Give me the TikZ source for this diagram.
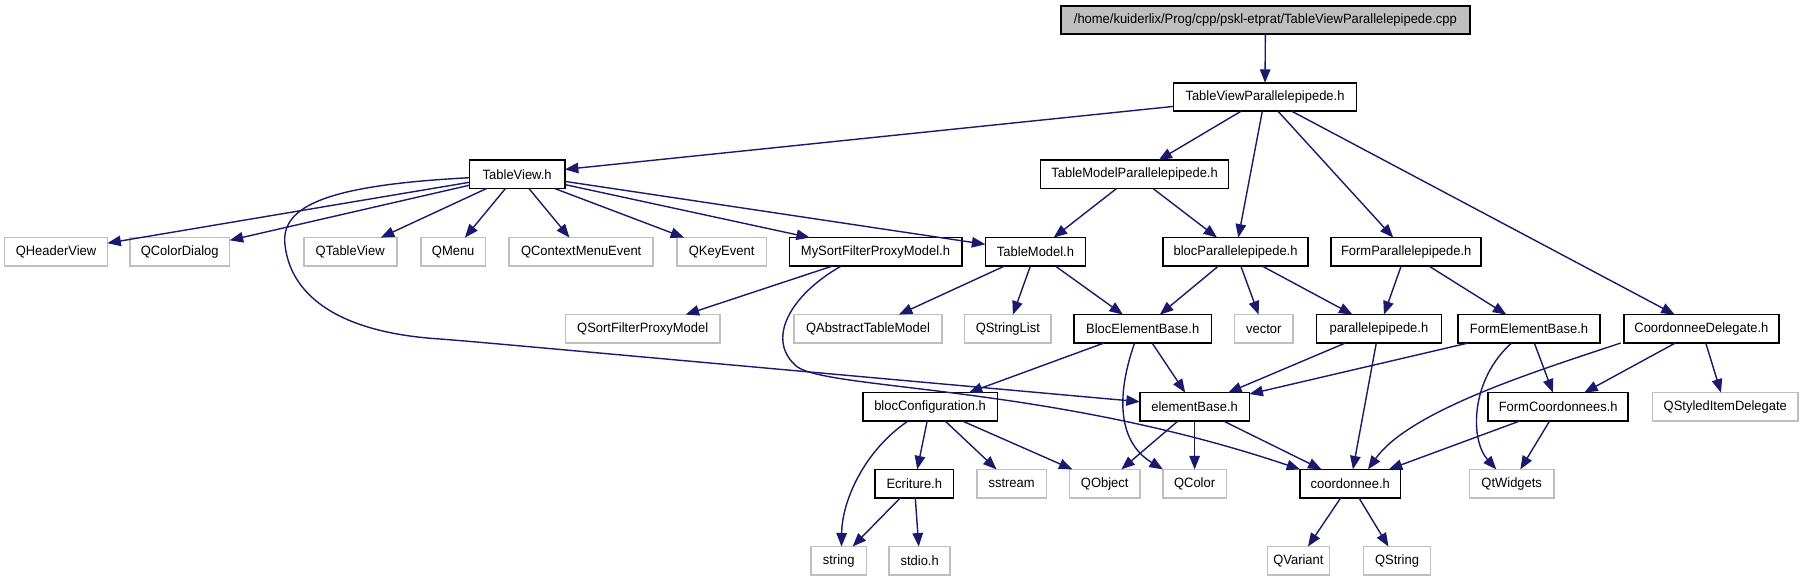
\documentclass[tikz,border=0pt]{standalone}
\usepackage{fontspec}
\setmainfont[FakeStretch=0.96]{Liberation Sans}
\usetikzlibrary{arrows.meta}
\definecolor{edgeblue}{HTML}{191970}
\definecolor{sysgray}{HTML}{BFBFBF}
\begin{document}
\begin{tikzpicture}[x=1pt,y=-1pt,
  box/.style={draw=black, line width=1.6pt, rectangle, inner sep=0pt, outer sep=0pt,
              minimum height=28.4pt, font=\fontsize{13.5}{15}\selectfont, fill=white},
  sys/.style={box, draw=sysgray},
  rootbox/.style={box, fill=sysgray},
  dep/.style={draw=edgeblue, line width=1.4pt, -{Triangle[length=13.5pt,width=10.5pt]}}]
\useasboundingbox (0,0) rectangle (1804,581);
% row 0
\node[rootbox, minimum width=409pt] (root) at (1265.4,19.9) {/home/kuiderlix/Prog/cpp/pskl-etprat/TableViewParallelepipede.cpp};
% row 1
\node[box, minimum width=183.3pt] (tvp) at (1265,97) {TableViewParallelepipede.h};
% row 2
\node[box, minimum width=95.3pt] (tv) at (517.2,174.3) {TableView.h};
\node[box, minimum width=188pt] (tmp) at (1134.6,174.4) {TableModelParallelepipede.h};
% row 3
\node[sys, minimum width=102.7pt] (qhv) at (56,251.8) {QHeaderView};
\node[sys, minimum width=99.9pt] (qcd) at (179.7,251.8) {QColorDialog};
\node[sys, minimum width=93pt] (qtv) at (350.2,251.8) {QTableView};
\node[sys, minimum width=64.8pt] (qmenu) at (453.2,251.8) {QMenu};
\node[sys, minimum width=144.1pt] (qcme) at (581.2,251.8) {QContextMenuEvent};
\node[sys, minimum width=89.6pt] (qke) at (721.6,251.8) {QKeyEvent};
\node[box, minimum width=172.4pt] (mysort) at (875.5,251.8) {MySortFilterProxyModel.h};
\node[box, minimum width=100.3pt] (tm) at (1035.5,251.8) {TableModel.h};
\node[box, minimum width=145.3pt] (bp) at (1235.6,251.8) {blocParallelepipede.h};
\node[box, minimum width=150pt] (fp) at (1406.2,251.8) {FormParallelepipede.h};
% row 4
\node[sys, minimum width=154.5pt] (qsfpm) at (642.7,328.8) {QSortFilterProxyModel};
\node[sys, minimum width=148.1pt] (qatm) at (868,328.8) {QAbstractTableModel};
\node[sys, minimum width=86.4pt] (qsl) at (1007.8,328.8) {QStringList};
\node[box, minimum width=137.2pt] (beb) at (1142.7,328.8) {BlocElementBase.h};
\node[sys, minimum width=58.8pt] (vector) at (1263.8,328.8) {vector};
\node[box, minimum width=125.1pt] (para) at (1378.9,328.8) {parallelepipede.h};
\node[box, minimum width=141.8pt] (feb) at (1529,328.8) {FormElementBase.h};
\node[box, minimum width=154.6pt] (cd) at (1701.4,328.8) {CoordonneeDelegate.h};
% row 5
\node[box, minimum width=134.6pt] (bc) at (930.1,406.8) {blocConfiguration.h};
\node[box, minimum width=109.6pt] (eb) at (1194.6,406.8) {elementBase.h};
\node[box, minimum width=140.1pt] (fc) at (1558.2,406.8) {FormCoordonnees.h};
\node[sys, minimum width=145.8pt] (qsid) at (1725.3,406.8) {QStyledItemDelegate};
% row 6
\node[box, minimum width=78.7pt] (ecr) at (914.3,483.6) {Ecriture.h};
\node[sys, minimum width=69.7pt] (sstream) at (1011.6,483.6) {sstream};
\node[sys, minimum width=70.3pt] (qobj) at (1104.7,483.6) {QObject};
\node[sys, minimum width=63.4pt] (qcolor) at (1194.6,483.6) {QColor};
\node[box, minimum width=100.3pt] (coord) at (1350.3,483.6) {coordonnee.h};
\node[sys, minimum width=84.2pt] (qtw) at (1511.7,483.6) {QtWidgets};
% row 7
\node[sys, minimum width=55.2pt] (string) at (838.7,560.7) {string};
\node[sys, minimum width=61pt] (stdio) at (919.7,560.7) {stdio.h};
\node[sys, minimum width=62.2pt] (qvar) at (1298.4,560.7) {QVariant};
\node[sys, minimum width=66.9pt] (qstr) at (1397,560.7) {QString};

% edges
\draw[dep] (root) -- (tvp);
\draw[dep] (tvp) -- (tv);
\draw[dep] (tvp) -- (tmp);
\draw[dep] (tvp) -- (bp);
\draw[dep] (tvp) -- (fp);
\draw[dep] (tvp) -- (cd);
\draw[dep] (tv) -- (qhv);
\draw[dep] (tv) -- (qcd);
\draw[dep] (tv) -- (qtv);
\draw[dep] (tv) -- (qmenu);
\draw[dep] (tv) -- (qcme);
\draw[dep] (tv) -- (qke);
\draw[dep] (tv) -- (mysort);
\draw[dep] (tv) -- (tm);
\draw[dep] ([yshift=-3.4pt]tv.west) .. controls (330,185) and (280,205) .. (285,245)
  .. controls (290,290) and (330,332) .. (440,339)
  .. controls (480,342) and (520,346) .. ([yshift=5.1pt]eb.west);
\draw[dep] (tmp) -- (tm);
\draw[dep] (tmp) -- (bp);
\draw[dep] (mysort) -- (qsfpm);
\draw[dep] ([xshift=-34.2pt]mysort.south) .. controls (790,295) and (765,340) .. (797,366.7)
  .. controls (830,390) and (1050,385) .. (coord.north west);
\draw[dep] (tm) -- (qatm);
\draw[dep] (tm) -- (qsl);
\draw[dep] (tm) -- (beb);
\draw[dep] (bp) -- (beb);
\draw[dep] (bp) -- (vector);
\draw[dep] (bp) -- (para);
\draw[dep] (fp) -- (para);
\draw[dep] (fp) -- (feb);
\draw[dep] (beb) -- (bc);
\draw[dep] (beb) -- (eb);
\draw[dep] ([xshift=-8.1pt]beb.south) .. controls (1118,390) and (1115,440) .. (qcolor.north west);
\draw[dep] (para) -- (eb);
\draw[dep] (para) -- (coord);
\draw[dep] (feb) -- (eb);
\draw[dep] (feb) -- (fc);
\draw[dep] ([xshift=-17.4pt]feb.south) .. controls (1470,380) and (1470,440) .. ([xshift=-15.4pt]qtw.north);
\draw[dep] ([xshift=-80.7pt]cd.south) .. controls (1540,370) and (1410,410) .. ([xshift=17.7pt]coord.north);
\draw[dep] (cd) -- (fc);
\draw[dep] (cd) -- (qsid);
\draw[dep] ([xshift=-22pt]bc.south) .. controls (865,450) and (842,500) .. ([xshift=2.8pt]string.north);
\draw[dep] (bc) -- (ecr);
\draw[dep] (bc) -- (sstream);
\draw[dep] (bc) -- (qobj);
\draw[dep] (eb) -- (qobj);
\draw[dep] (eb) -- (qcolor);
\draw[dep] (eb) -- (coord);
\draw[dep] (fc) -- (coord);
\draw[dep] (fc) -- (qtw);
\draw[dep] (ecr) -- (string);
\draw[dep] (ecr) -- (stdio);
\draw[dep] (coord) -- (qvar);
\draw[dep] (coord) -- (qstr);
\end{tikzpicture}
\end{document}
